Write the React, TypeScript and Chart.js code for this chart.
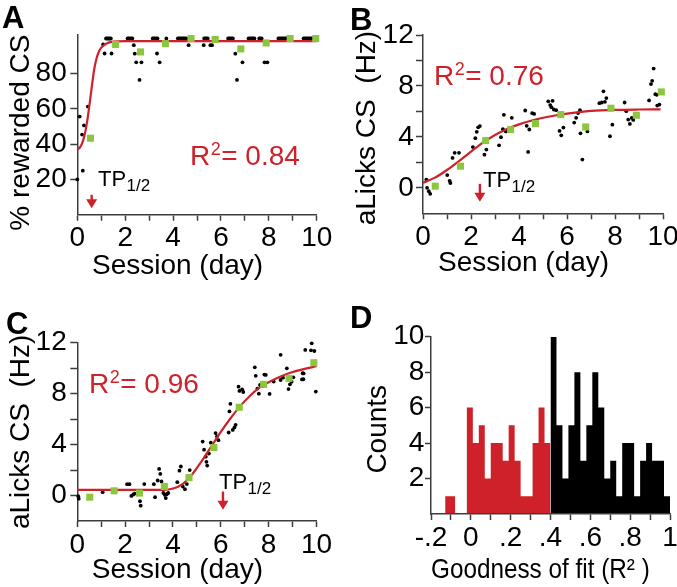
import React, { useEffect, useRef } from 'react';
import { Chart, registerables } from 'chart.js';

Chart.register(...registerables);

const FONT = "'Liberation Sans', Arial, Helvetica, sans-serif";
const RED = '#cf2129';
const GREEN = '#8cc63f';
const AXIS = '#3c3c3c';
const FS = 28;
const HALF_LINE = (FS * 1.2) / 2;

// ---------- shared ticks ----------
const sessionTicks = [0, 1, 2, 3, 4, 5, 6, 7, 8, 9, 10];
const sessionLabels = ['0', '', '2', '', '4', '', '6', '', '8', '', '10'];
const pctTicks = [20, 40, 60, 80];
const pctLabels = ['20', '40', '60', '80'];
const lickTicks = [0, 2, 4, 6, 8, 10, 12];
const lickLabels = ['0', '', '4', '', '8', '', '12'];
const fitTicks = [-0.2, -0.1, 0, 0.1, 0.2, 0.3, 0.4, 0.5, 0.6, 0.7, 0.8, 0.9, 1.0];
const fitLabels = ['-.2', '', '0', '', '.2', '', '.4', '', '.6', '', '.8', '', '1'];
const countTicks = [2, 4, 6, 8, 10];
const countLabels = ['2', '4', '6', '8', '10'];

// ---------- Panel A ----------
const aCurveX = [0, 0.1, 0.2, 0.3, 0.4, 0.5, 0.6, 0.7, 0.8, 0.9, 1.0, 1.2, 1.5, 2, 10];
const aCurveY = [37, 38, 40.5, 45, 52, 61.5, 72, 82, 88.5, 92.5, 94.8, 97, 98.2, 98.5, 98.5];
const aMeanX = [0.55, 1.6, 2.64, 3.68, 4.75, 5.76, 6.83, 7.89, 8.89, 9.96];
const aMeanY = [43.4, 96.6, 92.4, 97.1, 100, 99.5, 94.1, 97.5, 100, 100];
const aDotX = [
  0.0, 0.1, 0.2, 0.23, 0.28, 0.44,
  1.08, 1.14, 1.43,
  1.2, 1.25, 1.3, 1.35, 1.4,
  2.1, 2.15, 2.2, 2.25, 2.3,
  2.36, 2.4, 2.46, 2.68, 2.6,
  3.15, 3.2, 3.25, 3.3, 3.35,
  3.33, 3.44,
  3.72,
  4.2, 4.25, 4.3, 4.35, 4.4, 4.45, 4.5, 4.55,
  4.65,
  5.3, 5.35, 5.4, 5.45, 5.7,
  5.28, 5.56, 5.63,
  6.3, 6.35, 6.4, 6.45, 6.5,
  6.6, 6.9, 6.67,
  7.15, 7.2, 7.25, 7.3, 7.35, 7.4, 7.6, 7.65, 7.7,
  7.82, 7.94,
  8.4, 8.45, 8.5, 8.55, 8.6, 8.65, 8.7, 8.75, 8.8, 8.85,
  9.45, 9.5, 9.55, 9.6, 9.65, 9.7, 9.75, 9.8, 9.85, 9.9, 9.95, 10,
];
const aDotY = [
  20, 55.7, 45.5, 25, 50.7, 61.4,
  96.6, 91.5, 91.5,
  100, 100, 100, 100, 100,
  100, 100, 100, 100, 100,
  96.2, 91.4, 86.5, 86.5, 76.5,
  100, 100, 100, 100, 100,
  91.5, 86.5,
  100,
  100, 100, 100, 100, 100, 100, 100, 100,
  96.2,
  100, 100, 100, 100, 100,
  96.2, 96.2, 96.2,
  100, 100, 100, 100, 100,
  91.4, 86.5, 76.5,
  100, 100, 100, 100, 100, 100, 100, 100, 100,
  86.5, 86.5,
  100, 100, 100, 100, 100, 100, 100, 100, 100, 100,
  100, 100, 100, 100, 100, 100, 100, 100, 100, 100, 100, 100,
];

// ---------- Panel B ----------
const bCurveX = [0, 0.5, 1.0, 1.5, 2.0, 2.5, 3.0, 3.5, 4.0, 4.5, 5.0, 5.5, 6.0, 6.5, 7.0, 8.0, 9.0, 9.9];
const bCurveY = [0.4, 0.8, 1.4, 2.1, 2.85, 3.55, 4.15, 4.62, 4.98, 5.27, 5.5, 5.68, 5.83, 5.95, 6.04, 6.12, 6.15, 6.16];
const bMeanX = [0.51, 1.56, 2.61, 3.65, 4.69, 5.74, 6.78, 7.83, 8.89, 9.93];
const bMeanY = [0.13, 1.7, 3.71, 4.57, 5.04, 5.75, 4.78, 6.25, 5.7, 7.53];
const bDotX = [
  0.14, 0.17, 0.24, 0.3,
  1.01, 1.11, 1.14, 1.23, 1.32, 1.5,
  2.08, 2.18, 2.24, 2.3, 2.37, 2.56, 2.64,
  3.17, 3.25, 3.33, 3.37, 3.45, 3.7,
  4.26, 4.32, 4.43, 4.38, 4.55, 4.63,
  5.22, 5.3, 5.4, 5.35, 5.45, 5.55, 5.69, 5.76, 5.85,
  6.3, 6.38, 6.46, 6.54, 6.56, 6.64, 6.85,
  7.35, 7.45, 7.52, 7.58, 7.64, 7.79, 7.89,
  8.4, 8.47, 8.55, 8.62, 8.7, 8.76,
  9.42, 9.5, 9.55, 9.61, 9.68, 9.74, 9.76, 9.85,
];
const bDotY = [
  0.65, 0.0, -0.26, -0.47,
  1.0, 0.55, 0.38, 2.35, 2.75, 2.75,
  3.2, 3.9, 4.4, 4.75, 4.85, 2.6, 3.0,
  3.34, 3.98, 4.6, 5.73, 4.43, 5.5,
  6.07, 4.87, 4.58, 2.82, 5.86, 5.8,
  6.79, 6.5, 6.83, 6.33, 6.15, 6.1, 4.47, 4.12, 4.73,
  5.12, 5.5, 5.87, 6.1, 4.28, 2.22, 4.43,
  6.65, 6.7, 7.58, 6.75, 7.05, 4.05, 4.96,
  6.7, 6.02, 5.36, 5.02, 5.49, 5.33,
  6.86, 8.15, 8.4, 9.36, 7.35, 7.3, 6.46, 6.54,
];

// ---------- Panel C ----------
const cCurveX = [0, 3.6, 4.0, 4.4, 4.8, 5.2, 5.6, 6.0, 6.4, 6.8, 7.2, 7.6, 8.0, 8.5, 9.0, 9.5, 10];
const cCurveY = [0.45, 0.45, 0.55, 0.9, 1.65, 2.7, 3.85, 5.0, 6.05, 7.0, 7.8, 8.45, 8.9, 9.35, 9.7, 9.95, 10.15];
const cMeanX = [0.52, 1.54, 2.6, 3.64, 4.67, 5.71, 6.77, 7.79, 8.85, 9.89];
const cMeanY = [-0.13, 0.37, 0.19, 0.71, 1.41, 3.77, 6.93, 8.73, 9.2, 10.43];
const cDotX = [
  0.04, 0.06,
  1.06,
  2.08, 2.18, 2.26, 2.34, 2.4, 2.62, 2.65, 2.8,
  3.2, 3.25, 3.36, 3.42, 3.47, 3.52, 3.6, 3.66, 3.7, 3.74, 3.8,
  4.18, 4.27, 4.33, 4.41, 4.5, 4.58, 4.7,
  5.24, 5.3, 5.37, 5.4, 5.43, 5.5, 5.58, 5.78, 5.84, 5.9,
  6.33, 6.36, 6.4, 6.5, 6.57, 6.62,
  6.74, 6.78, 6.89, 6.94,
  7.42, 7.46, 7.53, 7.59, 7.64, 7.74, 7.82, 7.88, 8.04, 8.21,
  8.5, 8.5, 8.6, 8.76, 8.83, 8.89, 8.96, 9.03,
  9.39, 9.42, 9.45, 9.46, 9.53, 9.77, 9.8, 9.91, 9.97,
];
const cDotY = [
  -0.05, -0.25,
  0.26,
  0.89, 0.89, -0.03, 0.08, 0.15, -0.45, -0.8, 0.9,
  0.89, -0.13, 1.18, 2.09, 1.7, 1.1, 0.2, 0.05, -0.2, 0.1, 0.2,
  1.05, 1.95, 2.28, 0.71, 0.5, 0.9, 2.0,
  4.24, 3.6, 3.05, 2.65, 2.35, 3.3, 4.15, 4.9, 4.65, 4.35,
  4.95, 6.6, 7.2, 5.15, 5.35, 5.55,
  8.55, 8.21, 8.34, 8.13,
  10.07, 9.4, 8.4, 8.0, 8.68, 8.6, 9.5, 9.47, 7.98, 8.95,
  9.07, 11.05, 9.25, 9.99, 8.36, 8.73, 8.94, 9.28,
  9.12, 9.6, 9.13, 9.59, 11.43, 11.4, 11.95, 11.35, 8.16,
];

// ---------- Panel D (histogram of R^2): bin edges and counts ----------
const lowFitEdges = [-0.129, -0.079, -0.02, 0.01, 0.04, 0.07, 0.10, 0.13, 0.16, 0.19, 0.22, 0.25, 0.28, 0.31, 0.34, 0.37, 0.40];
const lowFitCounts = [1, 0, 6, 4, 5, 2, 4, 4, 3, 5, 3, 1, 1, 4, 6, 4];
const highFitEdges = [0.40, 0.43, 0.46, 0.49, 0.52, 0.55, 0.58, 0.61, 0.64, 0.67, 0.70, 0.73, 0.76, 0.79, 0.82, 0.85, 0.88, 0.91, 0.94, 0.97, 1.00];
const highFitCounts = [10, 5, 2, 5, 8, 3, 5, 8, 6, 2, 3, 1, 4, 4, 1, 3, 4, 3, 3, 1];

const pts = (xs: number[], ys: number[]) => xs.map((x, i) => ({ x, y: ys[i] }));
// histogram steps: each count holds from its left edge to the next edge; the closing edge drops to 0
const histPts = (edges: number[], counts: number[]) =>
  edges.map((x, i) => ({ x, y: i < counts.length ? counts[i] : 0 }));

type AxisSpec = {
  min: number; max: number; ticks: number[]; labels: string[];
  size: number; tickLen: number; labelGap: number; title: string; titleEdge: number;
};

function xAxis(s: AxisSpec) {
  return {
    type: 'linear', position: 'bottom', min: s.min, max: s.max, offset: false,
    afterBuildTicks: (sc: any) => { sc.ticks = s.ticks.map((v) => ({ value: v })); },
    afterFit: (sc: any) => { sc.height = s.size; sc.paddingLeft = 0; sc.paddingRight = 0; },
    ticks: {
      autoSkip: false, maxRotation: 0, minRotation: 0, padding: s.labelGap - s.tickLen - HALF_LINE, color: '#000',
      font: { family: FONT, size: FS }, callback: (_v: any, i: number) => s.labels[i],
    },
    grid: { display: true, drawOnChartArea: false, drawTicks: true, tickLength: s.tickLen, tickColor: AXIS, tickWidth: 1.5, offset: false },
    border: { display: true, color: AXIS, width: 1.5, z: 1 },
    title: { display: true, text: s.title, color: '#000', font: { family: FONT, size: FS }, padding: { top: 0, bottom: Math.max(0, s.titleEdge - HALF_LINE) } },
  };
}

function yAxis(s: AxisSpec) {
  return {
    type: 'linear', position: 'left', min: s.min, max: s.max,
    afterBuildTicks: (sc: any) => { sc.ticks = s.ticks.map((v) => ({ value: v })); },
    afterFit: (sc: any) => { sc.width = s.size; sc.paddingTop = 0; sc.paddingBottom = 0; },
    ticks: {
      autoSkip: false, padding: s.labelGap - s.tickLen, color: '#000',
      font: { family: FONT, size: FS }, callback: (_v: any, i: number) => s.labels[i],
    },
    grid: { display: true, drawOnChartArea: false, drawTicks: true, tickLength: s.tickLen, tickColor: AXIS, tickWidth: 1.5 },
    border: { display: true, color: AXIS, width: 1.5 },
    title: { display: true, text: s.title, color: '#000', font: { family: FONT, size: FS }, padding: { top: Math.max(0, s.titleEdge - HALF_LINE), bottom: 0 } },
  };
}

type Annot = {
  letter: string; lx: number; ly: number;
  r2?: { x: number; y: number; text: string };
  tp?: { value: number; top: number; tip: number; tx: number; ty: number };
};

function annotPlugin(a: Annot) {
  return {
    id: 'panelAnnot',
    afterDraw(chart: any) {
      const ctx = chart.ctx;
      const xs = chart.scales.x;
      const ys = chart.scales.y;
      ctx.save();
      ctx.textAlign = 'left';
      ctx.textBaseline = 'alphabetic';
      ctx.fillStyle = '#000';
      ctx.font = `bold 31px ${FONT}`;
      ctx.fillText(a.letter, a.lx, a.ly);
      if (a.r2) {
        ctx.fillStyle = RED;
        ctx.font = `28px ${FONT}`;
        ctx.fillText('R', a.r2.x, a.r2.y);
        const wR = ctx.measureText('R').width;
        ctx.font = `18px ${FONT}`;
        ctx.fillText('2', a.r2.x + wR + 0.5, a.r2.y - 10);
        const w2 = ctx.measureText('2').width;
        ctx.font = `28px ${FONT}`;
        ctx.fillText('= ' + a.r2.text, a.r2.x + wR + w2 + 1, a.r2.y);
      }
      if (a.tp) {
        const px = xs.getPixelForValue(a.tp.value);
        const yTop = ys.getPixelForValue(a.tp.top);
        const yTip = ys.getPixelForValue(a.tp.tip);
        ctx.strokeStyle = RED;
        ctx.fillStyle = RED;
        ctx.lineWidth = 2.4;
        ctx.beginPath();
        ctx.moveTo(px, yTop);
        ctx.lineTo(px, yTip - 7);
        ctx.stroke();
        ctx.beginPath();
        ctx.moveTo(px - 5.5, yTip - 9);
        ctx.lineTo(px + 5.5, yTip - 9);
        ctx.lineTo(px, yTip);
        ctx.closePath();
        ctx.fill();
        ctx.fillStyle = '#000';
        ctx.font = `22px ${FONT}`;
        ctx.fillText('TP', a.tp.tx, a.tp.ty);
        const wTP = ctx.measureText('TP').width;
        ctx.font = `17px ${FONT}`;
        ctx.fillText('1/2', a.tp.tx + wTP + 0.5, a.tp.ty + 5);
      }
      ctx.restore();
    },
  };
}

function scatterConfig(
  curveX: number[], curveY: number[], meanX: number[], meanY: number[], dotX: number[], dotY: number[],
  xs: AxisSpec, ys: AxisSpec, pad: { top: number; right: number }, annot: Annot,
) {
  return {
    type: 'scatter',
    data: {
      datasets: [
        { data: pts(meanX, meanY), pointStyle: 'rect', pointRadius: 5, backgroundColor: GREEN, borderWidth: 0, clip: false },
        { type: 'line', data: pts(curveX, curveY), showLine: true, borderColor: RED, borderWidth: 2.2, pointRadius: 0, cubicInterpolationMode: 'monotone', fill: false, clip: false },
        { data: pts(dotX, dotY), pointRadius: 1.9, backgroundColor: '#000', borderWidth: 0, clip: false },
      ],
    },
    options: {
      animation: false, responsive: false, maintainAspectRatio: false,
      layout: { padding: { left: 0, top: pad.top, right: pad.right, bottom: 0 } },
      plugins: { legend: { display: false }, tooltip: { enabled: false } },
      events: [],
      scales: { x: xAxis(xs), y: yAxis(ys) },
    },
    plugins: [annotPlugin(annot)],
  };
}

function histConfig() {
  const xs: AxisSpec = { min: -0.2, max: 1.0, ticks: fitTicks, labels: fitLabels, size: 73, tickLen: 6, labelGap: 24.3, title: 'Goodness of fit (R² )   ', titleEdge: 15.7 };
  const ys: AxisSpec = { min: 0, max: 10, ticks: countTicks, labels: countLabels, size: 93, tickLen: 6, labelGap: 6.7, title: 'Counts ', titleEdge: 40.7 };
  const stepCommon = { stepped: 'before', borderWidth: 0, pointRadius: 0, fill: 'origin', tension: 0 };
  return {
    type: 'line',
    data: {
      datasets: [
        { ...stepCommon, data: histPts(lowFitEdges, lowFitCounts), backgroundColor: RED, borderColor: RED },
        { ...stepCommon, data: histPts(highFitEdges, highFitCounts), backgroundColor: '#000', borderColor: '#000' },
      ],
    },
    options: {
      animation: false, responsive: false, maintainAspectRatio: false,
      layout: { padding: { left: 0, top: 43.7, right: 7, bottom: 0 } },
      plugins: { legend: { display: false }, tooltip: { enabled: false }, filler: { propagate: false } },
      events: [],
      scales: { x: xAxis(xs), y: yAxis(ys) },
    },
    plugins: [annotPlugin({ letter: 'D', lx: 12, ly: 35 })],
  };
}

function Panel({ left, top, width, height, make }: { left: number; top: number; width: number; height: number; make: () => any }) {
  const ref = useRef<HTMLCanvasElement>(null);
  useEffect(() => {
    const chart = new Chart(ref.current as HTMLCanvasElement, make());
    return () => chart.destroy();
  }, []);
  return (
    <div style={{ position: 'absolute', left, top, width, height }}>
      <canvas ref={ref} width={width} height={height} style={{ width, height, display: 'block' }} />
    </div>
  );
}

const SESSION_TITLE = 'Session (day)     ';

export default function App() {
  const sessionAxis = (size: number, labelGap: number, titleEdge: number): AxisSpec => ({
    min: 0, max: 10, ticks: sessionTicks, labels: sessionLabels, size, tickLen: 6, labelGap, title: SESSION_TITLE, titleEdge,
  });
  const makeA = () => scatterConfig(
    aCurveX, aCurveY, aMeanX, aMeanY, aDotX, aDotY,
    sessionAxis(78.3, 23.6, 26.3),
    { min: 0, max: 102, ticks: pctTicks, labels: pctLabels, size: 77.3, tickLen: 7, labelGap: 10.6, title: '% rewarded CS  ', titleEdge: 21.7 },
    { top: 35, right: 21.3 },
    { letter: 'A', lx: 2, ly: 28, r2: { x: 190, y: 165, text: '0.84' }, tp: { value: 0.6, top: 11.3, tip: 3.7, tx: 98, ty: 186 } },
  );
  const makeB = () => scatterConfig(
    bCurveX, bCurveY, bMeanX, bMeanY, bDotX, bDotY,
    sessionAxis(79.7, 24, 29.7),
    { min: -2, max: 12, ticks: lickTicks, labels: lickLabels, size: 85, tickLen: 7, labelGap: 9.3, title: 'aLicks CS  (Hz) ', titleEdge: 29 },
    { top: 35, right: 14 },
    { letter: 'B', lx: 12, ly: 30, r2: { x: 96, y: 85, text: '0.76' }, tp: { value: 2.37, top: 0.31, tip: -1.1, tx: 145, ty: 187 } },
  );
  const makeC = () => scatterConfig(
    cCurveX, cCurveY, cMeanX, cMeanY, cDotX, cDotY,
    sessionAxis(66, 24, 15.3),
    { min: -2, max: 12, ticks: lickTicks, labels: lickLabels, size: 77.3, tickLen: 7, labelGap: 10.6, title: 'aLicks CS  (Hz)', titleEdge: 21.7 },
    { top: 49.7, right: 21.5 },
    { letter: 'C', lx: 6, ly: 41, r2: { x: 89, y: 100, text: '0.96' }, tp: { value: 6.09, top: 0.31, tip: -1.12, tx: 219, ty: 196 } },
  );
  return (
    <div style={{ position: 'absolute', left: 0, top: 0, width: 677, height: 587, background: '#fff' }}>
      <Panel left={0} top={0} width={338} height={293} make={makeA} />
      <Panel left={338} top={0} width={339} height={293} make={makeB} />
      <Panel left={0} top={293} width={338} height={294} make={makeC} />
      <Panel left={338} top={293} width={339} height={294} make={histConfig} />
    </div>
  );
}
